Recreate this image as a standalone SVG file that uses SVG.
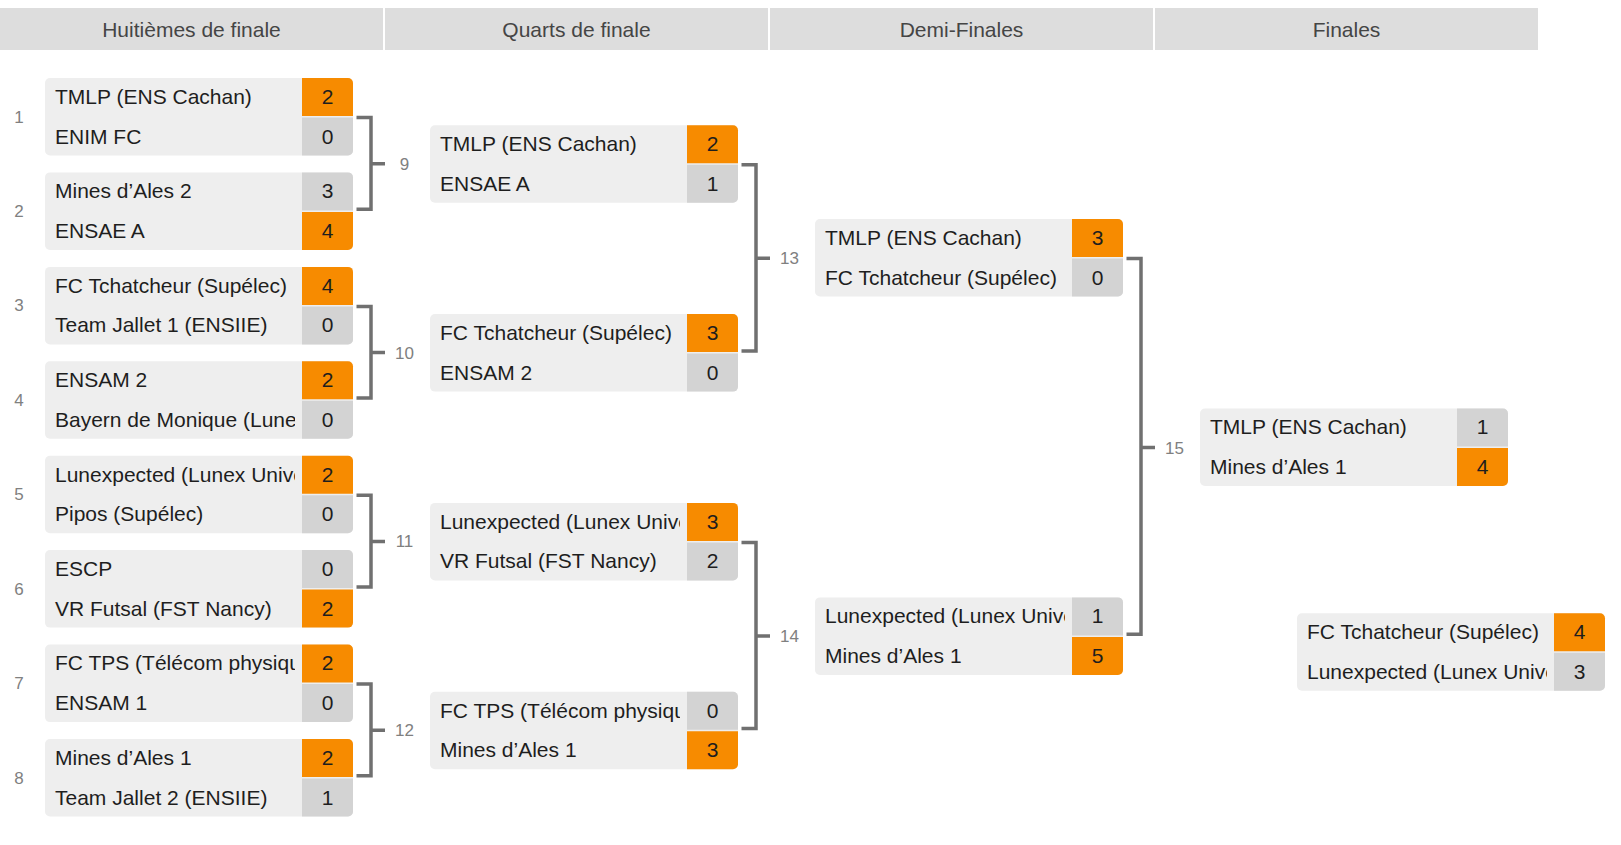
<svg xmlns="http://www.w3.org/2000/svg" width="1621" height="845" viewBox="0 0 1621 845">
<style>
text{font-family:"Liberation Sans",Arial,Helvetica,sans-serif}
.hdr{fill:#dddddd}
.htxt{font-size:21px;fill:#454545;text-anchor:middle}
.box{fill:#eeeeee}
.win{fill:#f78b00}
.lose{fill:#d3d3d3}
.team{font-size:21px;fill:#1e1e1e}
.score{font-size:21px;fill:#1e1e1e;text-anchor:middle}
.num{font-size:17px;fill:#808080;text-anchor:middle}
.conn{fill:none;stroke:#707070;stroke-width:3.5;stroke-linejoin:miter}
</style>
<defs>
<clipPath id="c1" clipPathUnits="userSpaceOnUse"><rect x="45" y="0" width="250" height="845"/></clipPath>
<clipPath id="c2" clipPathUnits="userSpaceOnUse"><rect x="430" y="0" width="250" height="845"/></clipPath>
<clipPath id="c3" clipPathUnits="userSpaceOnUse"><rect x="815" y="0" width="250" height="845"/></clipPath>
<clipPath id="c4" clipPathUnits="userSpaceOnUse"><rect x="1200" y="0" width="250" height="845"/></clipPath>
<clipPath id="c5" clipPathUnits="userSpaceOnUse"><rect x="1297" y="0" width="250" height="845"/></clipPath>
</defs>
<rect width="1621" height="845" fill="#ffffff"/>
<g id="headers">
<rect class="hdr" x="0" y="8" width="383" height="42"/>
<text class="htxt" x="191.5" y="36.5">Huitièmes de finale</text>
<rect class="hdr" x="385" y="8" width="383" height="42"/>
<text class="htxt" x="576.5" y="36.5">Quarts de finale</text>
<rect class="hdr" x="770" y="8" width="383" height="42"/>
<text class="htxt" x="961.5" y="36.5">Demi-Finales</text>
<rect class="hdr" x="1155" y="8" width="383" height="42"/>
<text class="htxt" x="1346.5" y="36.5">Finales</text>
</g>
<g id="connectors">
<path class="conn" d="M356.5 117.5H371V209.2H356.5M371 163.7H385"/>
<path class="conn" d="M356.5 306.4H371V398H356.5M371 352.6H385"/>
<path class="conn" d="M356.5 495.2H371V586.9H356.5M371 541.4H385"/>
<path class="conn" d="M356.5 684.1H371V775.8H356.5M371 730.3H385"/>
<path class="conn" d="M741.5 164.7H756V350.9H741.5M756 258.2H770"/>
<path class="conn" d="M741.5 542.4H756V728.6H741.5M756 635.9H770"/>
<path class="conn" d="M1126.5 258.5H1141V634.2H1126.5M1141 447.5H1155"/>
<text class="num" x="404.5" y="169.7">9</text>
<text class="num" x="404.5" y="358.6">10</text>
<text class="num" x="404.5" y="547.4">11</text>
<text class="num" x="404.5" y="736.3">12</text>
<text class="num" x="789.5" y="264.2">13</text>
<text class="num" x="789.5" y="641.9">14</text>
<text class="num" x="1174.5" y="453.5">15</text>
</g>
<g id="m1">
<text class="num" x="19" y="122.5">1</text>
<rect class="box" x="45" y="78" width="308" height="77.5" rx="5"/>
<path class="win" d="M302 78H348a5 5 0 0 1 5 5V116H302Z"/>
<path class="lose" d="M302 117.5H353V150.5a5 5 0 0 1 -5 5H302Z"/>
<text class="team" x="55" y="103.8" clip-path="url(#c1)">TMLP (ENS Cachan)</text>
<text class="team" x="55" y="143.5" clip-path="url(#c1)">ENIM FC</text>
<text class="score" x="327.5" y="103.8">2</text>
<text class="score" x="327.5" y="143.5">0</text>
</g>
<g id="m2">
<text class="num" x="19" y="216.9">2</text>
<rect class="box" x="45" y="172.4" width="308" height="77.5" rx="5"/>
<path class="lose" d="M302 172.4H348a5 5 0 0 1 5 5V210.4H302Z"/>
<path class="win" d="M302 211.9H353V244.9a5 5 0 0 1 -5 5H302Z"/>
<text class="team" x="55" y="198.2" clip-path="url(#c1)">Mines d’Ales 2</text>
<text class="team" x="55" y="237.9" clip-path="url(#c1)">ENSAE A</text>
<text class="score" x="327.5" y="198.2">3</text>
<text class="score" x="327.5" y="237.9">4</text>
</g>
<g id="m3">
<text class="num" x="19" y="311.4">3</text>
<rect class="box" x="45" y="266.9" width="308" height="77.5" rx="5"/>
<path class="win" d="M302 266.9H348a5 5 0 0 1 5 5V304.9H302Z"/>
<path class="lose" d="M302 306.4H353V339.4a5 5 0 0 1 -5 5H302Z"/>
<text class="team" x="55" y="292.7" clip-path="url(#c1)">FC Tchatcheur (Supélec)</text>
<text class="team" x="55" y="332.4" clip-path="url(#c1)">Team Jallet 1 (ENSIIE)</text>
<text class="score" x="327.5" y="292.7">4</text>
<text class="score" x="327.5" y="332.4">0</text>
</g>
<g id="m4">
<text class="num" x="19" y="405.8">4</text>
<rect class="box" x="45" y="361.3" width="308" height="77.5" rx="5"/>
<path class="win" d="M302 361.3H348a5 5 0 0 1 5 5V399.3H302Z"/>
<path class="lose" d="M302 400.8H353V433.8a5 5 0 0 1 -5 5H302Z"/>
<text class="team" x="55" y="387.1" clip-path="url(#c1)">ENSAM 2</text>
<text class="team" x="55" y="426.8" clip-path="url(#c1)">Bayern de Monique (Lune</text>
<text class="score" x="327.5" y="387.1">2</text>
<text class="score" x="327.5" y="426.8">0</text>
</g>
<g id="m5">
<text class="num" x="19" y="500.2">5</text>
<rect class="box" x="45" y="455.7" width="308" height="77.5" rx="5"/>
<path class="win" d="M302 455.7H348a5 5 0 0 1 5 5V493.7H302Z"/>
<path class="lose" d="M302 495.2H353V528.2a5 5 0 0 1 -5 5H302Z"/>
<text class="team" x="55" y="481.5" clip-path="url(#c1)">Lunexpected (Lunex Unive</text>
<text class="team" x="55" y="521.2" clip-path="url(#c1)">Pipos (Supélec)</text>
<text class="score" x="327.5" y="481.5">2</text>
<text class="score" x="327.5" y="521.2">0</text>
</g>
<g id="m6">
<text class="num" x="19" y="594.6">6</text>
<rect class="box" x="45" y="550.1" width="308" height="77.5" rx="5"/>
<path class="lose" d="M302 550.1H348a5 5 0 0 1 5 5V588.1H302Z"/>
<path class="win" d="M302 589.6H353V622.6a5 5 0 0 1 -5 5H302Z"/>
<text class="team" x="55" y="575.9" clip-path="url(#c1)">ESCP</text>
<text class="team" x="55" y="615.6" clip-path="url(#c1)">VR Futsal (FST Nancy)</text>
<text class="score" x="327.5" y="575.9">0</text>
<text class="score" x="327.5" y="615.6">2</text>
</g>
<g id="m7">
<text class="num" x="19" y="689.1">7</text>
<rect class="box" x="45" y="644.6" width="308" height="77.5" rx="5"/>
<path class="win" d="M302 644.6H348a5 5 0 0 1 5 5V682.6H302Z"/>
<path class="lose" d="M302 684.1H353V717.1a5 5 0 0 1 -5 5H302Z"/>
<text class="team" x="55" y="670.4" clip-path="url(#c1)">FC TPS (Télécom physiqu</text>
<text class="team" x="55" y="710.1" clip-path="url(#c1)">ENSAM 1</text>
<text class="score" x="327.5" y="670.4">2</text>
<text class="score" x="327.5" y="710.1">0</text>
</g>
<g id="m8">
<text class="num" x="19" y="783.5">8</text>
<rect class="box" x="45" y="739" width="308" height="77.5" rx="5"/>
<path class="win" d="M302 739H348a5 5 0 0 1 5 5V777H302Z"/>
<path class="lose" d="M302 778.5H353V811.5a5 5 0 0 1 -5 5H302Z"/>
<text class="team" x="55" y="764.8" clip-path="url(#c1)">Mines d’Ales 1</text>
<text class="team" x="55" y="804.5" clip-path="url(#c1)">Team Jallet 2 (ENSIIE)</text>
<text class="score" x="327.5" y="764.8">2</text>
<text class="score" x="327.5" y="804.5">1</text>
</g>
<g id="m9">
<rect class="box" x="430" y="125.2" width="308" height="77.5" rx="5"/>
<path class="win" d="M687 125.2H733a5 5 0 0 1 5 5V163.2H687Z"/>
<path class="lose" d="M687 164.7H738V197.7a5 5 0 0 1 -5 5H687Z"/>
<text class="team" x="440" y="151" clip-path="url(#c2)">TMLP (ENS Cachan)</text>
<text class="team" x="440" y="190.7" clip-path="url(#c2)">ENSAE A</text>
<text class="score" x="712.5" y="151">2</text>
<text class="score" x="712.5" y="190.7">1</text>
</g>
<g id="m10">
<rect class="box" x="430" y="314.1" width="308" height="77.5" rx="5"/>
<path class="win" d="M687 314.1H733a5 5 0 0 1 5 5V352.1H687Z"/>
<path class="lose" d="M687 353.6H738V386.6a5 5 0 0 1 -5 5H687Z"/>
<text class="team" x="440" y="339.9" clip-path="url(#c2)">FC Tchatcheur (Supélec)</text>
<text class="team" x="440" y="379.6" clip-path="url(#c2)">ENSAM 2</text>
<text class="score" x="712.5" y="339.9">3</text>
<text class="score" x="712.5" y="379.6">0</text>
</g>
<g id="m11">
<rect class="box" x="430" y="502.9" width="308" height="77.5" rx="5"/>
<path class="win" d="M687 502.9H733a5 5 0 0 1 5 5V540.9H687Z"/>
<path class="lose" d="M687 542.4H738V575.4a5 5 0 0 1 -5 5H687Z"/>
<text class="team" x="440" y="528.7" clip-path="url(#c2)">Lunexpected (Lunex Unive</text>
<text class="team" x="440" y="568.4" clip-path="url(#c2)">VR Futsal (FST Nancy)</text>
<text class="score" x="712.5" y="528.7">3</text>
<text class="score" x="712.5" y="568.4">2</text>
</g>
<g id="m12">
<rect class="box" x="430" y="691.8" width="308" height="77.5" rx="5"/>
<path class="lose" d="M687 691.8H733a5 5 0 0 1 5 5V729.8H687Z"/>
<path class="win" d="M687 731.3H738V764.3a5 5 0 0 1 -5 5H687Z"/>
<text class="team" x="440" y="717.6" clip-path="url(#c2)">FC TPS (Télécom physiqu</text>
<text class="team" x="440" y="757.3" clip-path="url(#c2)">Mines d’Ales 1</text>
<text class="score" x="712.5" y="717.6">0</text>
<text class="score" x="712.5" y="757.3">3</text>
</g>
<g id="m13">
<rect class="box" x="815" y="219" width="308" height="77.5" rx="5"/>
<path class="win" d="M1072 219H1118a5 5 0 0 1 5 5V257H1072Z"/>
<path class="lose" d="M1072 258.5H1123V291.5a5 5 0 0 1 -5 5H1072Z"/>
<text class="team" x="825" y="244.8" clip-path="url(#c3)">TMLP (ENS Cachan)</text>
<text class="team" x="825" y="284.5" clip-path="url(#c3)">FC Tchatcheur (Supélec)</text>
<text class="score" x="1097.5" y="244.8">3</text>
<text class="score" x="1097.5" y="284.5">0</text>
</g>
<g id="m14">
<rect class="box" x="815" y="597.4" width="308" height="77.5" rx="5"/>
<path class="lose" d="M1072 597.4H1118a5 5 0 0 1 5 5V635.4H1072Z"/>
<path class="win" d="M1072 636.9H1123V669.9a5 5 0 0 1 -5 5H1072Z"/>
<text class="team" x="825" y="623.2" clip-path="url(#c3)">Lunexpected (Lunex Unive</text>
<text class="team" x="825" y="662.9" clip-path="url(#c3)">Mines d’Ales 1</text>
<text class="score" x="1097.5" y="623.2">1</text>
<text class="score" x="1097.5" y="662.9">5</text>
</g>
<g id="m15">
<rect class="box" x="1200" y="408.5" width="308" height="77.5" rx="5"/>
<path class="lose" d="M1457 408.5H1503a5 5 0 0 1 5 5V446.5H1457Z"/>
<path class="win" d="M1457 448H1508V481a5 5 0 0 1 -5 5H1457Z"/>
<text class="team" x="1210" y="434.3" clip-path="url(#c4)">TMLP (ENS Cachan)</text>
<text class="team" x="1210" y="474" clip-path="url(#c4)">Mines d’Ales 1</text>
<text class="score" x="1482.5" y="434.3">1</text>
<text class="score" x="1482.5" y="474">4</text>
</g>
<g id="m16">
<rect class="box" x="1297" y="613.3" width="308" height="77.5" rx="5"/>
<path class="win" d="M1554 613.3H1600a5 5 0 0 1 5 5V651.3H1554Z"/>
<path class="lose" d="M1554 652.8H1605V685.8a5 5 0 0 1 -5 5H1554Z"/>
<text class="team" x="1307" y="639.1" clip-path="url(#c5)">FC Tchatcheur (Supélec)</text>
<text class="team" x="1307" y="678.8" clip-path="url(#c5)">Lunexpected (Lunex Unive</text>
<text class="score" x="1579.5" y="639.1">4</text>
<text class="score" x="1579.5" y="678.8">3</text>
</g>
</svg>
